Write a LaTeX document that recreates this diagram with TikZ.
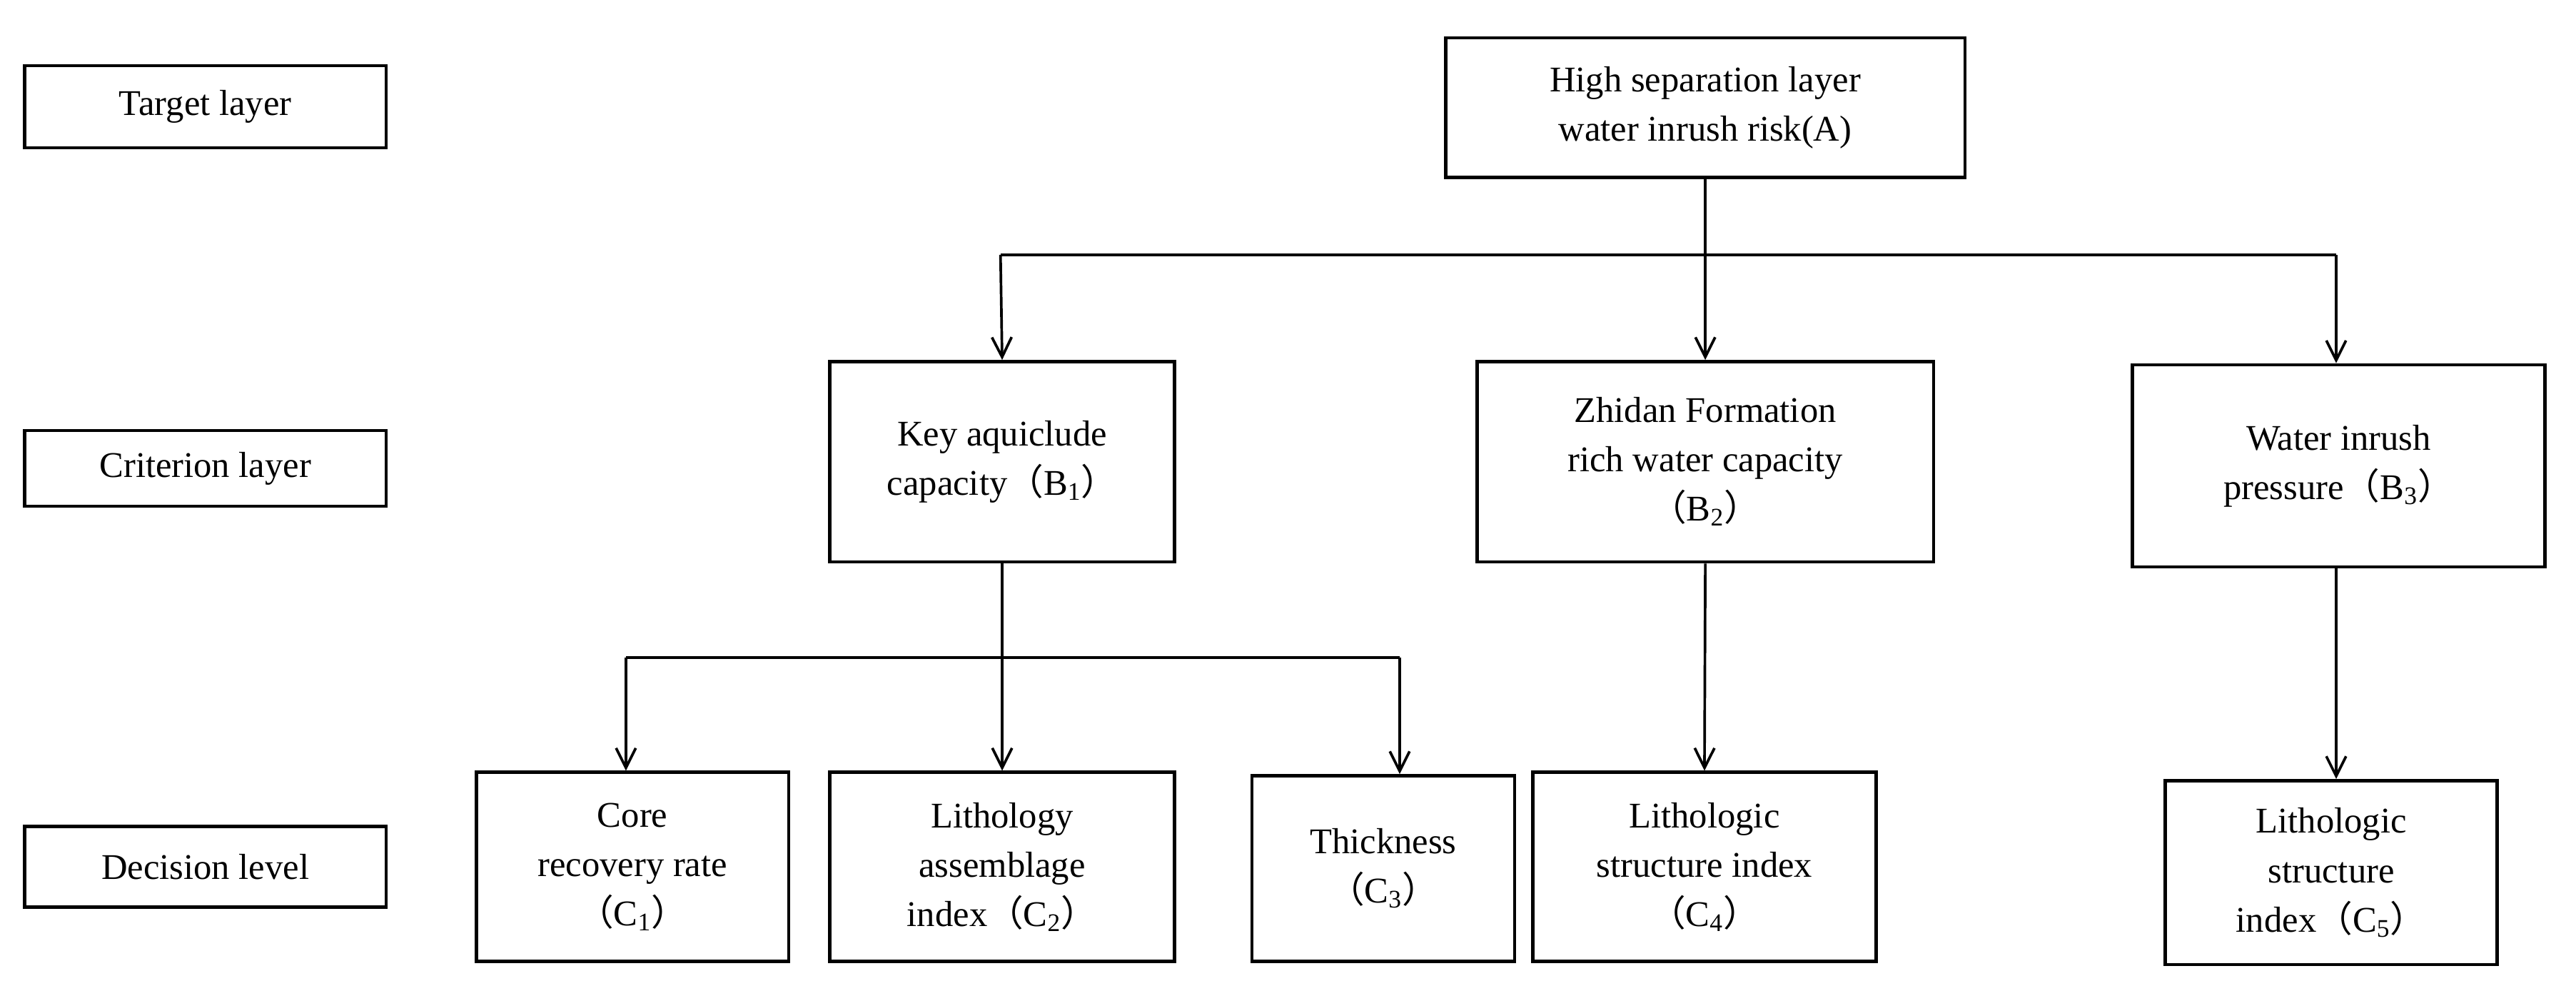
\documentclass[tikz,border=0pt]{standalone}
\usepackage{fontspec}
\setmainfont{Liberation Serif}
\newfontfamily\cjk{Noto Sans CJK SC}
\usetikzlibrary{arrows.meta}
\newcommand{\lp}{{\cjk （}}
\newcommand{\rp}{{\cjk ）}}
\begin{document}
\begin{tikzpicture}[x=1pt,y=-1pt,
  bx/.style={draw,line width=2pt,inner sep=0pt,align=center,font=\fontsize{22}{30}\selectfont},
  ar/.style={line width=1.6pt,-{Straight Barb[length=12pt,width=12pt,line width=1.6pt]}},
  ln/.style={line width=1.6pt}]
\useasboundingbox (0,0) rectangle (1568,603);
\node[bx,minimum width=220pt,minimum height=50pt] (T) at (125,65) {Target layer};
\node[bx,minimum width=220pt,minimum height=46pt] (Cr) at (125,285) {Criterion layer};
\node[bx,minimum width=220pt,minimum height=49pt] (D) at (125,527.5) {Decision level};
\node[bx,minimum width=316pt,minimum height=85pt] (A) at (1038,65.5) {High separation layer\\water inrush risk(A)};
\node[bx,minimum width=210pt,minimum height=122pt] (B1) at (610,281) {Key aquiclude\\capacity\lp B\textsubscript{1}\rp};
\node[bx,minimum width=278pt,minimum height=122pt] (B2) at (1038,281) {Zhidan Formation\\rich water capacity\\\lp B\textsubscript{2}\rp};
\node[bx,minimum width=251pt,minimum height=123pt] (B3) at (1423.5,283.5) {Water inrush\\pressure\lp B\textsubscript{3}\rp};
\node[bx,minimum width=190pt,minimum height=115pt] (C1) at (385,527.5) {Core\\recovery rate\\\lp C\textsubscript{1}\rp};
\node[bx,minimum width=210pt,minimum height=115pt] (C2) at (610,527.5) {Lithology\\assemblage\\index\lp C\textsubscript{2}\rp};
\node[bx,minimum width=160pt,minimum height=113pt] (C3) at (842,528.5) {Thickness\\\lp C\textsubscript{3}\rp};
\node[bx,minimum width=209pt,minimum height=115pt] (C4) at (1037.5,527.5) {Lithologic\\structure index\\\lp C\textsubscript{4}\rp};
\node[bx,minimum width=202pt,minimum height=112pt] (C5) at (1419,531) {Lithologic\\structure\\index\lp C\textsubscript{5}\rp};
\coordinate (h1) at (609,155);
\coordinate (h2) at (1422,155);
\coordinate (g1) at (381,400);
\coordinate (g2) at (852,400);
\draw[ar] (A.south) -- (B2.north);
\draw[ln] (h1) -- (h2);
\draw[ar] (h1) -- (B1.north);
\draw[ar] (h2) -- (h2 |- B3.north);
\draw[ar] (B1.south) -- (C2.north);
\draw[ln] (g1) -- (g2);
\draw[ar] (g1) -- (g1 |- C1.north);
\draw[ar] (g2) -- (g2 |- C3.north);
\draw[ar] (B2.south) -- (C4.north);
\draw[ar] (h2 |- B3.south) -- (h2 |- C5.north);
\end{tikzpicture}
\end{document}
